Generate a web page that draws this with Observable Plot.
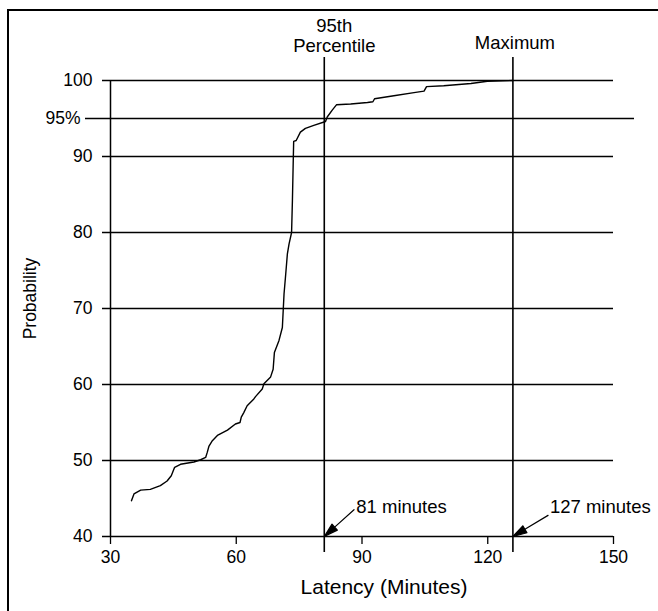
<!DOCTYPE html>
<html>
<head>
<meta charset="utf-8">
<script src="https://cdn.jsdelivr.net/npm/d3@7"></script>
<script src="https://cdn.jsdelivr.net/npm/@observablehq/plot@0.6"></script>
<style>
  body { margin: 0; background: #fff; }
  #wrap { position: relative; width: 658px; height: 611px; overflow: hidden; background: #fff; }
  #wrap svg { position: absolute; left: 0; top: 0; }
  #frame { position: absolute; left: 7px; top: 9px; width: 660px; height: 620px;
           border-top: 2px solid #000; border-left: 2px solid #000; pointer-events: none; }
</style>
</head>
<body>
<div id="wrap"><div id="frame"></div></div>
<script>
// Cumulative latency distribution
const latency = [35.0, 35.6, 37.2, 39.5, 41.9, 43.5, 44.5, 45.3, 46.7, 49.9, 51.5, 52.7, 53.1, 53.5, 54.3, 55.5, 57.9, 59.8, 60.9, 61.2, 61.8, 62.6, 64.2, 64.6, 66.2, 66.6, 68.2, 68.8, 69.1, 70.2, 71.0, 71.2, 71.4, 71.8, 72.2, 72.6, 73.2, 73.4, 73.6, 73.7, 74.3, 75.3, 76.5, 78.5, 81.3, 81.7, 82.9, 83.9, 87.3, 91.3, 92.6, 93.0, 97.6, 102.4, 104.8, 105.4, 109.5, 116.0, 119.9, 126.0];
const probability = [44.7, 45.6, 46.1, 46.2, 46.7, 47.3, 48.0, 49.1, 49.5, 49.8, 50.1, 50.4, 51.1, 51.9, 52.6, 53.3, 54.0, 54.8, 55.0, 55.7, 56.3, 57.2, 58.1, 58.4, 59.4, 60.1, 61.0, 62.0, 64.2, 65.8, 67.5, 69.7, 71.9, 74.5, 77.2, 78.5, 80.0, 84.2, 89.5, 92.0, 92.1, 93.2, 93.7, 94.1, 94.6, 95.2, 96.1, 96.8, 96.9, 97.1, 97.2, 97.6, 98.0, 98.4, 98.6, 99.2, 99.3, 99.6, 99.9, 100.0];

const xTicks = [30, 60, 90, 120, 150];
const yTicks = [40, 50, 60, 70, 80, 90, 100];
const gridLevels = [50, 60, 70, 80, 90, 100];
const percentileLevel = 95;
const percentileLabel = "95%";

const markerX = [81, 126];
const markerTopLabels = ["95th\nPercentile", "Maximum"];
const markerBottomLabels = ["81 minutes", "127 minutes"];

const xLabel = "Latency (Minutes)";
const yLabel = "Probability";

const curve = latency.map((x, i) => ({x, y: probability[i]}));
const markers = markerX.map((x, i) => ({x, top: markerTopLabels[i], bottom: markerBottomLabels[i]}));

const font = "'Liberation Sans', Arial, Helvetica, sans-serif";
const tickFont = 17.5;
const noteFont = 18.5;

const filledArrow = {
  draw(context, l) {
    const h = 14, w = 4;
    context.moveTo(0, 0);
    context.lineTo(0, -l + h);
    context.moveTo(0, -l);
    context.lineTo(-w, -l + h);
    context.lineTo(w, -l + h);
    context.closePath();
  }
};

const chart = Plot.plot({
  width: 658,
  height: 611,
  marginLeft: 110,
  marginRight: 45,
  marginTop: 80,
  marginBottom: 75,
  style: {fontFamily: font, fontSize: tickFont + "px", background: "transparent", color: "black", overflow: "visible"},
  x: {domain: [30, 150]},
  y: {domain: [40, 100]},
  marks: [
    Plot.ruleY(gridLevels, {insetLeft: -8, stroke: "black", strokeWidth: 1.3}),
    Plot.ruleY([40], {insetLeft: -8, stroke: "black", strokeWidth: 1.5}),
    Plot.ruleY([percentileLevel], {insetLeft: -25, insetRight: -21, stroke: "black", strokeWidth: 1.3}),
    Plot.ruleX([30], {stroke: "black", strokeWidth: 1.5}),
    Plot.ruleX(markerX, {insetTop: -23, insetBottom: -16, stroke: "black", strokeWidth: 1.6}),
    Plot.axisX(xTicks, {tickSize: 8, tickPadding: 6, label: null, stroke: "black", strokeWidth: 1.3, fill: "black", fontSize: tickFont}),
    Plot.axisY(yTicks, {tickSize: 0, tickPadding: 18, label: null, fill: "black", fontSize: tickFont}),
    Plot.text([percentileLevel], {y: d => d, frameAnchor: "left", text: () => percentileLabel, textAnchor: "end", dx: -30, fill: "black", fontSize: tickFont}),
    Plot.line(curve, {x: "x", y: "y", stroke: "black", strokeWidth: 1.4, curve: "linear"}),
    Plot.text([markers[0]], {x: "x", text: "top", frameAnchor: "top", textAnchor: "middle", lineAnchor: "bottom", lineHeight: 1.05, dx: 10, dy: -29, fill: "black", fontSize: noteFont}),
    Plot.text([markers[1]], {x: "x", text: "top", frameAnchor: "top", textAnchor: "middle", lineAnchor: "bottom", dx: 2, dy: -32, fill: "black", fontSize: noteFont}),
    Plot.text([markers[0]], {x: "x", text: "bottom", frameAnchor: "bottom", textAnchor: "start", lineAnchor: "bottom", dx: 32, dy: -24, fill: "black", fontSize: noteFont}),
    Plot.text([markers[1]], {x: "x", text: "bottom", frameAnchor: "bottom", textAnchor: "start", lineAnchor: "bottom", dx: 37, dy: -24, fill: "black", fontSize: noteFont}),
    Plot.vector([markers[0]], {x: "x", frameAnchor: "bottom", anchor: "end", length: 40, rotate: 228, shape: filledArrow, stroke: "black", fill: "black", strokeWidth: 1.2}),
    Plot.vector([markers[1]], {x: "x", frameAnchor: "bottom", anchor: "end", length: 41, rotate: 239, shape: filledArrow, stroke: "black", fill: "black", strokeWidth: 1.2}),
    Plot.text([xLabel], {frameAnchor: "bottom", textAnchor: "middle", lineAnchor: "bottom", dx: 22, dy: 57, fontSize: 21, fill: "black"}),
    Plot.text([yLabel], {frameAnchor: "left", textAnchor: "middle", rotate: -90, dx: -80, dy: -10, fontSize: 17.5, fill: "black"})
  ]
});

document.getElementById("wrap").insertBefore(chart, document.getElementById("frame"));
</script>
</body>
</html>
